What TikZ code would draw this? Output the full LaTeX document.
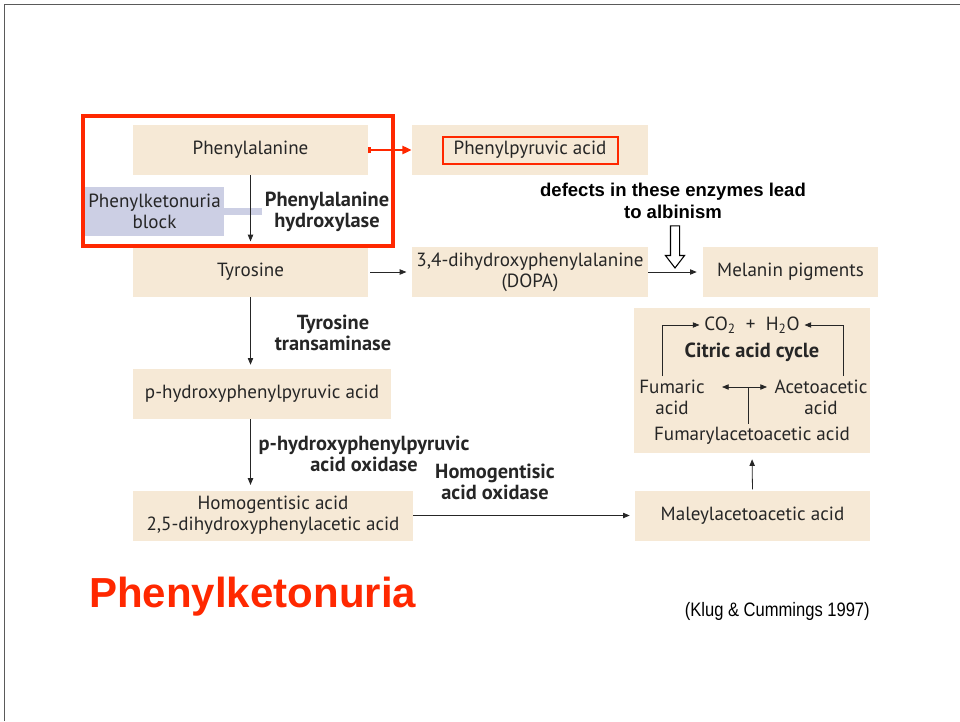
\documentclass[tikz,border=0pt]{standalone}
\usepackage{fontspec}
\setmainfont{PT Sans}
\newfontfamily\arialfont{Liberation Sans}
\newfontfamily\narrowfont[FakeStretch=0.85]{Liberation Sans}
\usetikzlibrary{arrows.meta,shapes.arrows}
\definecolor{boxfill}{RGB}{246,233,214}
\definecolor{blockfill}{RGB}{204,207,228}
\definecolor{pkured}{RGB}{255,40,0}
\definecolor{ink}{RGB}{38,38,38}
\definecolor{framegray}{RGB}{90,90,90}
\tikzset{
  box/.style={fill=boxfill, minimum height=37.5pt, align=center, inner sep=0pt, text=ink,
    font=\fontsize{14.3}{15.75}\selectfont},
  plain/.style={align=center, inner sep=2.5pt, text=ink, font=\fontsize{14.3}{15.75}\selectfont},
  enzyme/.style={align=center, inner sep=1pt, text=ink, font=\bfseries\fontsize{15.3}{15.75}\selectfont},
  flow/.style={draw=ink, line width=0.6pt, -{Triangle[length=5pt,width=4pt]}},
}
\begin{document}
\begin{tikzpicture}[x=0.75pt, y=-0.75pt]
    \useasboundingbox (0,0) rectangle (960,721);
    % slide frame, top and left only
    \draw[framegray, line width=1.2pt] (4.5,721) -- (4.5,4.5) -- (960,4.5);

    % pathway boxes
    \node[box, minimum width=176.25pt] (phe) at (250.5,150) {Phenylalanine};
    \node[box, minimum width=177pt] (phpbox) at (530,150) {};
    \node[plain, draw=pkured, line width=1.5pt, minimum width=131.25pt, minimum height=20.25pt, inner sep=0pt] (php) at (530,150) {Phenylpyruvic acid};
    \node[box, fill=blockfill, minimum width=104.25pt, minimum height=36.75pt] (pkub) at (154.5,211.5) {Phenylketonuria\\block};
    \node[box, minimum width=176.25pt] (tyr) at (250.5,272) {Tyrosine};
    \node[box, minimum width=177pt] (dopa) at (530,272) {3,4-dihydroxyphenylalanine\\(DOPA)};
    \node[box, minimum width=131.25pt] (mel) at (790.5,272) {Melanin pigments};
    \node[box, minimum width=193.5pt] (hpp) at (262,394) {p-hydroxyphenylpyruvic acid};
    \node[box, minimum width=210pt] (hga) at (273,515.5) {Homogentisic acid\\2,5-dihydroxyphenylacetic acid};
    \node[box, minimum width=176.25pt] (mal) at (752.5,516) {Maleylacetoacetic acid};
    \node[box, minimum width=177pt, minimum height=108.75pt] (cycbox) at (752,380.5) {};

    % citric acid cycle corner
    \node[plain] (prod) at (752,325) {CO\textsubscript{2}\ \ +\ \ H\textsubscript{2}O};
    \node[enzyme] (cac) at (752,352) {Citric acid cycle};
    \node[plain] (fum) at (672,397) {Fumaric\\acid};
    \node[plain] (aca) at (821,397) {Acetoacetic\\acid};
    \node[plain] (fac) at (752,436) {Fumarylacetoacetic acid};
    \coordinate (split) at (748,387);
    \coordinate (fumend) at (722,387);
    \coordinate (acaend) at (767,387);

    % enzyme labels
    \node[enzyme] (phehyd) at (327,212) {Phenylalanine\\hydroxylase};
    \node[enzyme] (tyrtrans) at (333,333) {Tyrosine\\transaminase};
    \node[enzyme] (hppox) at (364,454) {p-hydroxyphenylpyruvic\\acid oxidase};
    \node[enzyme] (hgaox) at (495,482) {Homogentisic\\acid oxidase};

    % block bar, drawn under the arrow
    \draw[blockfill, line width=5.25pt] (pkub.east) -- ++(38,0) coordinate (blockend);

    % arrows
    \draw[flow, shorten >=4pt] (phe) -- (tyr);
    \draw[flow, shorten <=1.5pt, shorten >=4pt] (tyr) -- (dopa);
    \draw[flow, shorten >=4.5pt] (dopa) -- (mel);
    \draw[flow, shorten >=3pt] (tyr.south) -- (tyr.south |- hpp.north);
    \draw[flow, shorten >=4pt] (tyr.south |- hpp.south) -- (tyr.south |- hga.north);
    \draw[flow, shorten >=3.75pt] (hga.east) -- (hga.east -| mal.west);
    \draw[flow, shorten <=1pt, shorten >=4.5pt] (mal.north) -- (cycbox.south);
    \draw[flow, shorten >=1pt] ([xshift=-7.5pt]fum.north) |- (prod.west);
    \draw[flow, shorten >=1pt] ([xshift=16.5pt]aca.north) |- (prod.east);
    \draw[draw=ink, line width=0.6pt] (fac.north -| split) -- (split);
    \draw[flow] (split) -- (fumend);
    \draw[flow] (split) -- (acaend);

    % PKU highlight
    \draw[pkured, line width=3pt] (83,116) rectangle (393,246);
    \draw[pkured, line width=2.2pt, {Bar[width=5pt]}-{Triangle[length=7pt,width=6pt]}] (phe.east) -- (phpbox.west);

    % albinism note
    \node[align=center, inner sep=0pt, font=\arialfont\bfseries\fontsize{13.9}{16.5}\selectfont] (albtext) at (673,201) {defects in these enzymes lead\\to albinism};
    \node[single arrow, draw=black, fill=white, line width=0.8pt, rotate=-90, minimum height=31.5pt, minimum width=13.5pt,
      inner sep=3pt, single arrow head extend=3.75pt, single arrow tip angle=75] (albarrow) at (675,244) {};

    % title and source
    \node[anchor=base west, inner sep=0pt, text=pkured, font=\arialfont\bfseries\fontsize{31.5}{36}\selectfont] (title) at (89,607) {Phenylketonuria};
    \node[anchor=base east, inner sep=0pt, font=\narrowfont\fontsize{14.6}{17}\selectfont] (credit) at (870,616) {(Klug \& Cummings 1997)};
\end{tikzpicture}
\end{document}
